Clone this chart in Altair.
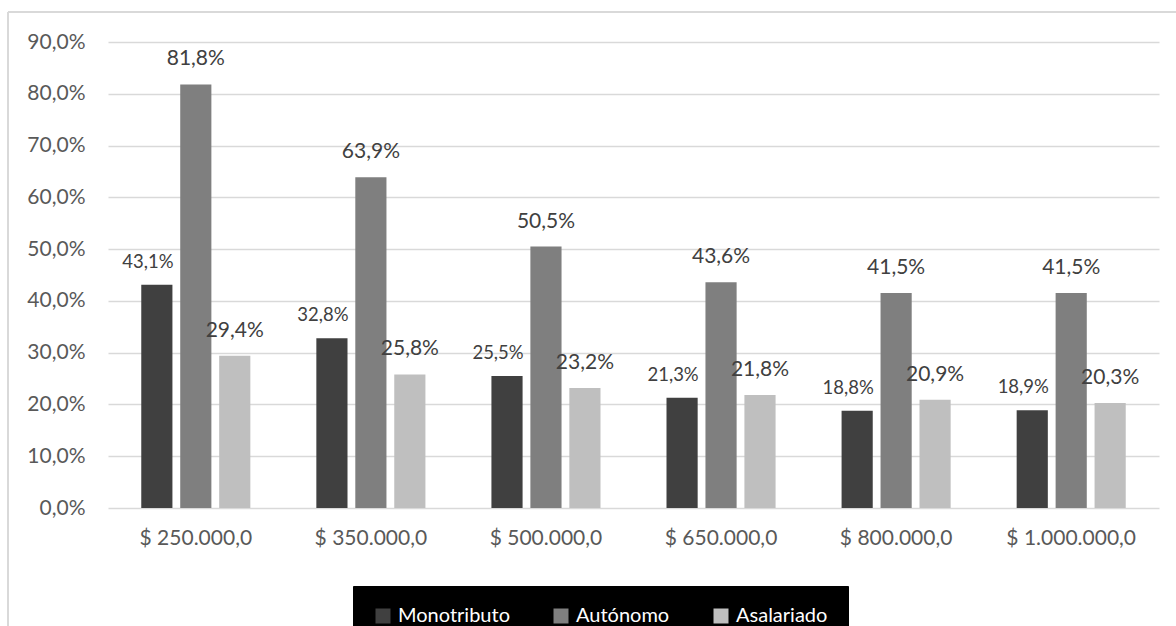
import altair as alt
import pandas as pd

# Income brackets and the share for each worker category (percent)
categories = ["$ 250.000,0", "$ 350.000,0", "$ 500.000,0",
              "$ 650.000,0", "$ 800.000,0", "$ 1.000.000,0"]
series = ["Monotributo", "Autónomo", "Asalariado"]
monotributo = [43.1, 32.8, 25.5, 21.3, 18.8, 18.9]
autonomo = [81.8, 63.9, 50.5, 43.6, 41.5, 41.5]
asalariado = [29.4, 25.8, 23.2, 21.8, 20.9, 20.3]
colors = ["#404040", "#7f7f7f", "#bfbfbf"]

rows = []
for name, vals in zip(series, [monotributo, autonomo, asalariado]):
    for cat, v in zip(categories, vals):
        rows.append({"cat": cat, "serie": name, "value": v})
df = pd.DataFrame(rows)

FONT = "Lato"
W, H = 1051, 466

x_enc = alt.X("cat:N", sort=categories, title=None,
              scale=alt.Scale(paddingInner=0.377, paddingOuter=0.19),
              axis=alt.Axis(labelAngle=0, labelFontSize=21, labelColor="#595959",
                            labelFont=FONT, ticks=False, domain=False,
                            labelPadding=19, grid=False))
xo_enc = alt.XOffset("serie:N", sort=series, scale=alt.Scale(paddingInner=0.2))
y_enc = alt.Y("value:Q", title=None,
              scale=alt.Scale(domain=[0, 90], nice=False),
              axis=alt.Axis(values=list(range(0, 91, 10)),
                            labelExpr="replace(format(datum.value / 100, '.1%'), '.', ',')",
                            labelFontSize=21, labelColor="#595959", labelFont=FONT,
                            ticks=False, domain=False, labelPadding=23,
                            grid=True, gridColor="#d9d9d9", gridWidth=1.5))

base = alt.Chart(df).transform_calculate(
    label="replace(format(datum.value / 100, '.1%'), '.', ',')"
)

bars = base.mark_bar().encode(
    x=x_enc,
    xOffset=xo_enc,
    y=y_enc,
    color=alt.Color("serie:N", sort=series,
                    scale=alt.Scale(domain=series, range=colors),
                    legend=alt.Legend(title=None)),
)

labels_main = base.transform_filter("datum.serie != 'Monotributo'").mark_text(
    baseline="middle", dy=-25, fontSize=21, font=FONT, color="#404040"
).encode(x=alt.X("cat:N", sort=categories), xOffset=xo_enc,
         y=alt.Y("value:Q"), text="label:N")

labels_mono = base.transform_filter("datum.serie == 'Monotributo'").mark_text(
    baseline="middle", dy=-23, dx=-9, fontSize=18.5, font=FONT, color="#404040"
).encode(x=alt.X("cat:N", sort=categories), xOffset=xo_enc,
         y=alt.Y("value:Q"), text="label:N")

# Outer chart frame (top and left edges)
frame_df = pd.DataFrame({"k": [0]})
frame_top = alt.Chart(frame_df).mark_rule(color="#d9d9d9", strokeWidth=2, clip=False).encode(
    x=alt.value(-100), x2=alt.value(1080), y=alt.value(-30))
frame_left = alt.Chart(frame_df).mark_rule(color="#d9d9d9", strokeWidth=2, clip=False).encode(
    x=alt.value(-100), y=alt.value(-30), y2=alt.value(600))

chart = alt.layer(frame_top, frame_left, bars, labels_main, labels_mono).properties(
    width=W, height=H,
    autosize=alt.AutoSizeParams(type="none"),
    padding={"left": 108, "top": 42, "right": 17, "bottom": 118},
    background="white",
).configure_view(stroke=None).configure_legend(
    orient="none", legendX=245, legendY=544,
    direction="horizontal", columns=3,
    fillColor="black", strokeColor="black",
    padding=20, columnPadding=41,
    symbolType="square", symbolSize=225, symbolStrokeWidth=0,
    labelColor="white", labelFontSize=20, labelFont=FONT, labelOffset=5,
)

chart.save("out.html", embed_options={"renderer": "svg", "actions": False})
